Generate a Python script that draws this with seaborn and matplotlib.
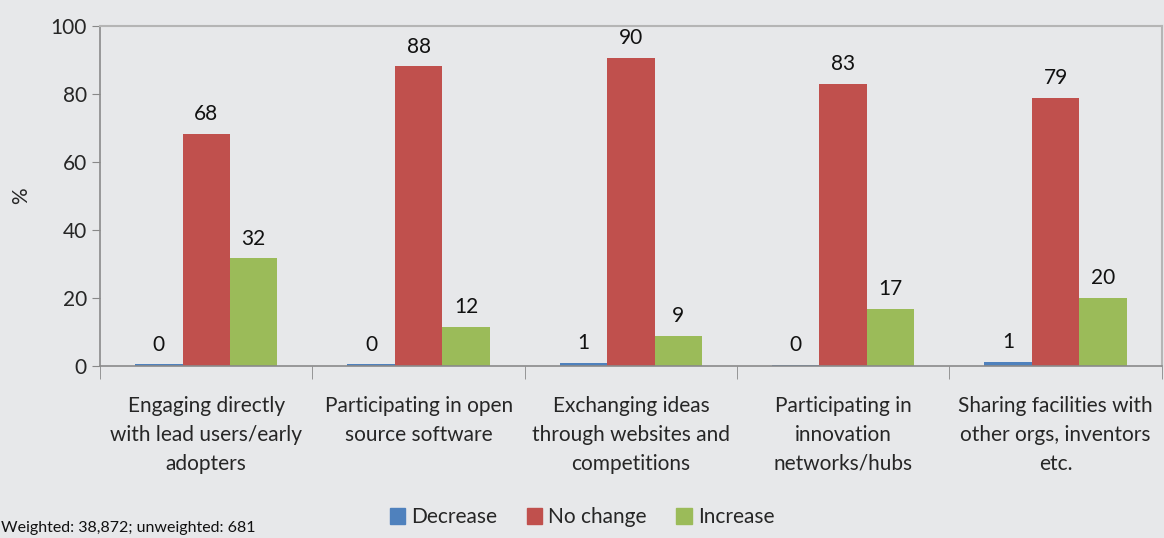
import numpy as np
import pandas as pd
import matplotlib.pyplot as plt
import seaborn as sns

categories = [
    "Engaging directly\nwith lead users/early\nadopters",
    "Participating in open\nsource software",
    "Exchanging ideas\nthrough websites and\ncompetitions",
    "Participating in\ninnovation\nnetworks/hubs",
    "Sharing facilities with\nother orgs, inventors\netc.",
]
decrease = [0.4, 0.4, 0.8, 0.3, 1.2]
no_change = [68.2, 88.1, 90.5, 83.0, 78.8]
increase = [31.6, 11.5, 8.8, 16.7, 20.0]
series = ["Decrease", "No change", "Increase"]
colors = ["#4F81BD", "#C0504D", "#9BBB59"]

df = pd.DataFrame({
    "category": categories * 3,
    "change": sum([[s] * len(categories) for s in series], []),
    "pct": decrease + no_change + increase,
})

bg = "#E7E8EA"
sns.set_style("white")
plt.rcParams["font.family"] = ["Lato", "DejaVu Sans"]

fig = plt.figure(figsize=(11.64, 5.38), dpi=100, facecolor=bg)
ax = fig.add_axes([0.086, 0.32, 0.912, 0.632])
ax.set_facecolor(bg)

sns.barplot(data=df, x="category", y="pct", hue="change", hue_order=series,
            palette=colors, width=0.67, saturation=1, ax=ax, legend=False,
            edgecolor="none", linewidth=0)

for cont in ax.containers:
    ax.bar_label(cont, fmt="%.0f", padding=7, fontsize=15, color="#111111")

ax.set_ylim(0, 100)
ax.set_yticks(range(0, 101, 20))
ax.set_xlim(-0.5, len(categories) - 0.5)
ax.set_xlabel("")
ax.set_ylabel("%", fontsize=15, labelpad=14)
ax.tick_params(axis="y", left=True, labelsize=15, length=6, color="#888888",
               direction="out")
ax.set_xticks(np.arange(len(categories)))
ax.set_xticklabels(categories, fontsize=15, linespacing=1.55)
ax.tick_params(axis="x", which="major", length=0, pad=22)
# ticks between groups
ax.set_xticks(np.arange(-0.5, len(categories)), minor=True)
ax.tick_params(axis="x", which="minor", bottom=True, length=9, color="#888888",
               direction="out")

for side in ["left", "bottom"]:
    ax.spines[side].set_color("#8a8a8a")
    ax.spines[side].set_linewidth(1.2)
for side in ["top", "right"]:
    ax.spines[side].set_color("#b5b5b5")
    ax.spines[side].set_linewidth(1.5)

handles = [plt.Rectangle((0, 0), 1, 1, color=c) for c in colors]
fig.legend(handles, series, loc="lower center", bbox_to_anchor=(0.5, -0.015),
           ncol=3, frameon=False, fontsize=15, handlelength=0.75, handleheight=0.75,
           handletextpad=0.3, columnspacing=1.4)

fig.text(0.001, 0.012, "Weighted: 38,872; unweighted: 681", fontsize=11.5,
         color="#111111")

fig.savefig("out.png", dpi=100, facecolor=bg)
